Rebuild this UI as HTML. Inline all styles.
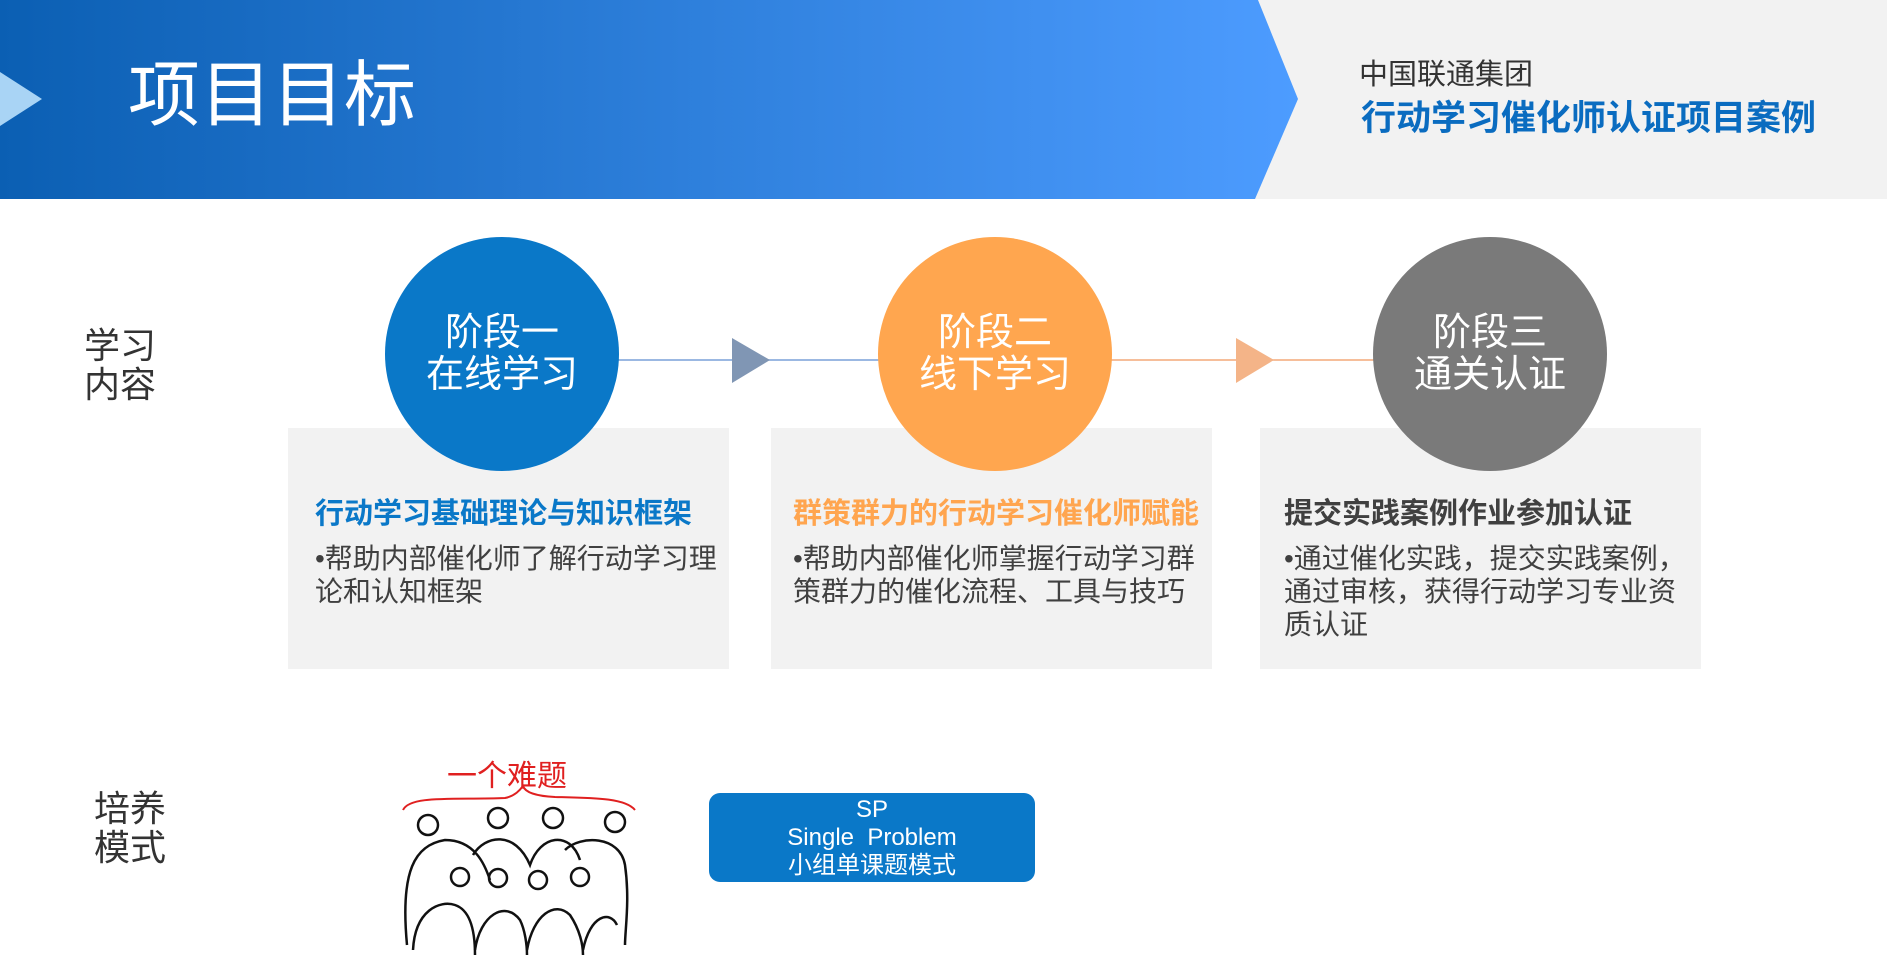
<!DOCTYPE html>
<html><head><meta charset="utf-8"><style>
*{margin:0;padding:0}
body{width:1887px;height:966px;position:relative;overflow:hidden;background:#fff;font-family:"Liberation Sans","Noto Sans CJK SC",sans-serif}
.a{position:absolute;white-space:nowrap}
.circ{position:absolute;width:234px;height:234px;border-radius:50%;color:#fff;font-size:38px;line-height:42px;text-align:center;display:flex;align-items:center;justify-content:center}
.box{position:absolute;top:428px;width:441px;height:241px;background:#f2f2f2}
.h{position:absolute;left:0;top:490px;font-size:29px;font-weight:bold;white-space:nowrap}
.b{position:absolute;top:540px;font-size:28px;line-height:33px;color:#404040;white-space:nowrap}
</style></head><body>
<svg class="a" style="left:0;top:0" width="1887" height="200">
<defs><linearGradient id="g" x1="0" x2="1"><stop offset="0" stop-color="#0b5fb3"/><stop offset="1" stop-color="#4d9cff"/></linearGradient></defs>
<rect x="0" y="0" width="1887" height="199" fill="#f2f2f2"/>
<polygon points="0,0 1258,0 1298,99 1255,199 0,199" fill="url(#g)"/>
<polygon points="0,72 42,99 0,126" fill="#a9d4f5"/>
</svg>
<div class="a" style="left:128px;top:56px;font-size:72px;color:#fff;line-height:80px">项目目标</div>
<div class="a" style="left:1359px;top:51px;font-size:29px;color:#333">中国联通集团</div>
<div class="a" style="left:1361px;top:90px;font-size:35px;font-weight:bold;color:#0a6cc0">行动学习催化师认证项目案例</div>

<div class="a" style="left:84px;top:326px;font-size:36px;line-height:39px;color:#333">学习<br>内容</div>
<div class="a" style="left:94px;top:789px;font-size:36px;line-height:39px;color:#333">培养<br>模式</div>

<svg class="a" style="left:0;top:0" width="1887" height="966">
<line x1="600" y1="360" x2="890" y2="360" stroke="#7aa0d8" stroke-width="1.5"/>
<polygon points="732,338 770,360 732,383" fill="#8096b4"/>
<line x1="1110" y1="360" x2="1380" y2="360" stroke="#f4a878" stroke-width="1.5"/>
<polygon points="1236,338 1274,360 1236,383" fill="#f4b488"/>
</svg>

<div class="box" style="left:288px"><div class="h" style="left:27px;top:62px;color:#0a78c8">行动学习基础理论与知识框架</div><div class="b" style="left:27px;top:114px">•帮助内部催化师了解行动学习理<br>论和认知框架</div></div>
<div class="box" style="left:771px"><div class="h" style="left:22px;top:62px;color:#ffa54f">群策群力的行动学习催化师赋能</div><div class="b" style="left:22px;top:114px">•帮助内部催化师掌握行动学习群<br>策群力的催化流程、工具与技巧</div></div>
<div class="box" style="left:1260px"><div class="h" style="left:24px;top:62px;color:#404040">提交实践案例作业参加认证</div><div class="b" style="left:24px;top:114px">•通过催化实践，提交实践案例，<br>通过审核，获得行动学习专业资<br>质认证</div></div>

<div class="circ" style="left:385px;top:237px;background:#0a78c8">阶段一<br>在线学习</div>
<div class="circ" style="left:878px;top:237px;background:#ffa64f">阶段二<br>线下学习</div>
<div class="circ" style="left:1373px;top:237px;background:#7a7a7a">阶段三<br>通关认证</div>

<svg class="a" style="left:395px;top:750px" width="250" height="210" fill="none" stroke="#111" stroke-width="2.5">
<text x="52" y="36" font-size="30" fill="#e02020" stroke="none" font-family="Liberation Sans,Noto Sans CJK SC,sans-serif">一个难题</text>
<path d="M8,60 C15,45 60,50 110,48 C120,46 125,40 128,36 C130,42 140,46 160,47 C200,48 230,48 240,60" stroke="#e02020" stroke-width="2"/>
<circle cx="33" cy="75" r="10"/><circle cx="103" cy="68" r="10"/><circle cx="158" cy="68" r="10"/><circle cx="220" cy="72" r="10"/>
<path d="M12,195 C5,120 20,95 50,90 C80,90 90,115 95,130"/>
<path d="M78,105 C90,85 120,80 135,115 C145,85 175,80 185,110"/>
<path d="M170,100 C185,85 225,85 230,115 C235,150 230,180 230,195"/>
<circle cx="65" cy="127" r="9"/><circle cx="103" cy="128" r="9"/><circle cx="143" cy="130" r="9"/><circle cx="185" cy="127" r="9"/>
<path d="M18,200 C20,160 45,150 60,155 C75,160 80,180 80,205"/>
<path d="M80,200 C85,165 110,150 125,170 C130,180 132,195 132,205"/>
<path d="M132,200 C138,165 160,150 175,165 C185,180 188,195 188,205"/>
<path d="M188,200 C195,165 215,160 222,175"/>
</svg>

<div class="a" style="left:709px;top:793px;width:326px;height:89px;border-radius:11px;background:#0a78c8;color:#fff;text-align:center;font-size:24px;line-height:28px;padding-top:3px;box-sizing:border-box">SP<br>Single&nbsp;&nbsp;Problem<br>小组单课题模式</div>
</body></html>
